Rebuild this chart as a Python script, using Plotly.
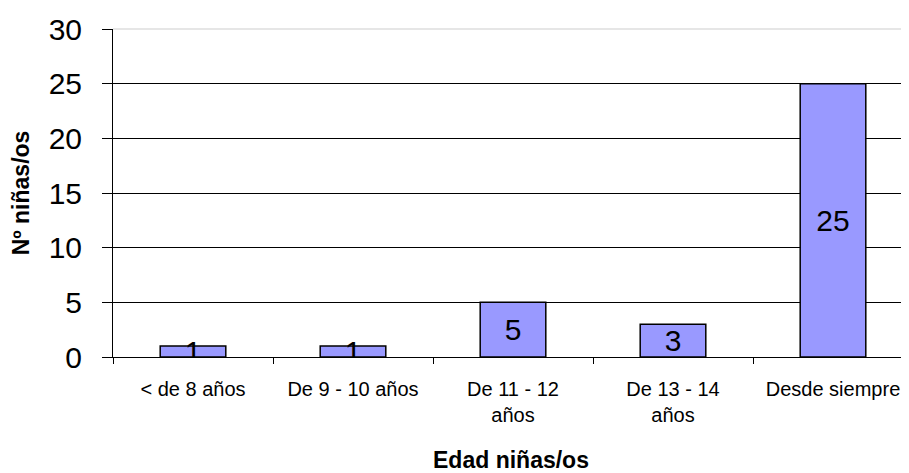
import plotly.graph_objects as go

categories = ["< de 8 años", "De 9 - 10 años", "De 11 - 12<br>años", "De 13 - 14<br>años", "Desde siempre"]
values = [1, 1, 5, 3, 25]
y_ticks = [0, 5, 10, 15, 20, 25, 30]

FONT = "Liberation Sans, Arial, sans-serif"

fig = go.Figure()
fig.add_trace(go.Bar(
    x=categories, y=values,
    text=[str(v) for v in values],
    textposition="inside", insidetextanchor="middle", textangle=0,
    textfont=dict(family=FONT, size=30, color="black"),
    marker=dict(color="#9999FF", line=dict(color="black", width=1.5)),
    width=0.41,
))

fig.update_layout(
    width=901, height=465,
    margin=dict(l=105, r=0, t=21, b=116),
    paper_bgcolor="white", plot_bgcolor="white",
    showlegend=False,
    uniformtext=dict(minsize=30, mode="show"),
    font=dict(family=FONT, color="black"),
)
fig.update_xaxes(
    range=[-0.5, 4.475],
    tickson="boundaries", ticks="outside", ticklen=6, tickcolor="black", tickwidth=1,
    showline=True, linecolor="black", linewidth=1,
    tickfont=dict(size=20, family=FONT, color="black"),
    ticklabelstandoff=14,
    title=dict(text="<b>Edad niñas/os</b>", font=dict(size=23, family=FONT), standoff=30),
    showgrid=False,
)
fig.update_yaxes(
    range=[0, 30], tickvals=y_ticks,
    ticks="outside", ticklen=10, tickcolor="black", tickwidth=1,
    showline=True, linecolor="black", linewidth=1,
    showgrid=True, gridcolor="black", gridwidth=1,
    zeroline=False,
    tickfont=dict(size=30, family=FONT, color="black"),
    ticklabelstandoff=14,
    title=dict(text="<b>Nº niñas/os</b>", font=dict(size=23, family=FONT), standoff=12),
)
# light top border of plot area
fig.add_shape(type="line", xref="paper", yref="paper", x0=0, x1=1, y0=1, y1=1,
              line=dict(color="#e6e6e6", width=2), layer="above")

fig.write_html("out.html")
